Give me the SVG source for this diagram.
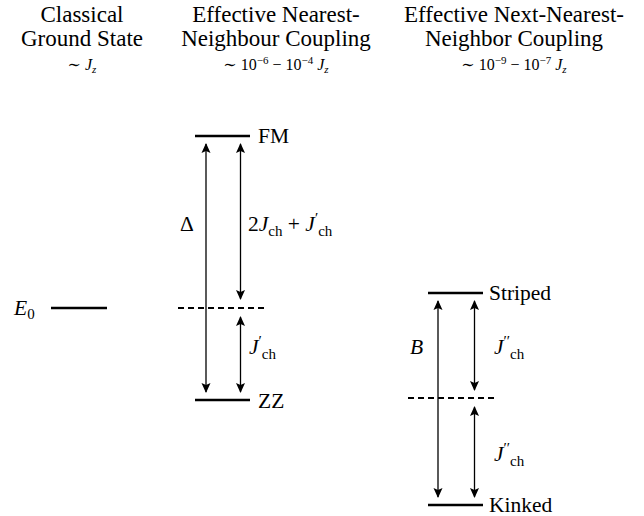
<svg xmlns="http://www.w3.org/2000/svg" width="644" height="516" viewBox="0 0 644 516">
<style>
text{font-family:"Liberation Serif","DejaVu Serif",serif;fill:#000}
.h{font-size:23px;text-anchor:middle}
.s{font-size:16px;text-anchor:middle}
.sup{font-size:11px}
.l{font-size:21.5px}
.i{font-style:italic}
.sub{font-size:15px}
.lvl{stroke:#000;stroke-width:2.6;fill:none}
.dash{stroke:#000;stroke-width:2;stroke-dasharray:6 4;fill:none}
.arr{stroke:#000;stroke-width:1.3;fill:none;marker-start:url(#ah);marker-end:url(#ah)}
</style>
<defs>
<marker id="ah" viewBox="0 0 10 10" refX="9" refY="5" markerWidth="10" markerHeight="10" markerUnits="userSpaceOnUse" orient="auto-start-reverse">
<path d="M0,0.5 L10,5 L0,9.5 L2,5 Z" fill="#000"/>
</marker>
</defs>
<g id="headers">
<text class="h" x="82" y="22">Classical</text>
<text class="h" x="82" y="46">Ground State</text>
<text class="s" x="82" y="70">∼ <tspan class="i">J</tspan><tspan class="sup i" dy="3">z</tspan></text>
<text class="h" x="276" y="22">Effective Nearest-</text>
<text class="h" x="276" y="46">Neighbour Coupling</text>
<text class="s" x="276" y="70">∼ 10<tspan class="sup" dy="-6">−6</tspan><tspan dy="6"> − 10</tspan><tspan class="sup" dy="-6">−4</tspan><tspan dy="6" class="i"> J</tspan><tspan class="sup i" dy="3">z</tspan></text>
<text class="h" x="514" y="22">Effective Next-Nearest-</text>
<text class="h" x="514" y="46">Neighbor Coupling</text>
<text class="s" x="514" y="70">∼ 10<tspan class="sup" dy="-6">−9</tspan><tspan dy="6"> − 10</tspan><tspan class="sup" dy="-6">−7</tspan><tspan dy="6" class="i"> J</tspan><tspan class="sup i" dy="3">z</tspan></text>
</g>
<g id="E0">
<line class="lvl" x1="51" y1="308" x2="107" y2="308"/>
<text class="l" x="14" y="315"><tspan class="i">E</tspan><tspan class="sub" dy="4">0</tspan></text>
</g>
<g id="FM">
<line class="lvl" x1="195" y1="136" x2="250" y2="136"/>
<text class="l" x="258" y="143">FM</text>
</g>
<g id="NN-mid">
<line class="dash" x1="178" y1="308" x2="268" y2="308"/>
</g>
<g id="ZZ">
<line class="lvl" x1="195" y1="400" x2="250" y2="400"/>
<text class="l" x="258" y="408">ZZ</text>
</g>
<g id="Striped">
<line class="lvl" x1="428" y1="293" x2="483" y2="293"/>
<text class="l" x="489" y="300">Striped</text>
</g>
<g id="NNN-mid">
<line class="dash" x1="408" y1="398" x2="498" y2="398"/>
</g>
<g id="Kinked">
<line class="lvl" x1="428" y1="505" x2="483" y2="505"/>
<text class="l" x="489" y="512">Kinked</text>
</g>
<g id="connectors">
<line class="arr" x1="206" y1="144" x2="206" y2="392"/>
<line class="arr" x1="240.5" y1="144" x2="240.5" y2="299"/>
<line class="arr" x1="240.5" y1="317" x2="240.5" y2="392"/>
<line class="arr" x1="438" y1="301" x2="438" y2="497"/>
<line class="arr" x1="474.5" y1="301" x2="474.5" y2="390"/>
<line class="arr" x1="474.5" y1="407" x2="474.5" y2="497"/>
</g>
<g id="labels">
<text class="l" x="180" y="231">Δ</text>
<text class="l" x="248" y="231">2<tspan class="i">J</tspan><tspan class="sub" dy="5">ch</tspan><tspan dy="-5"> + </tspan><tspan class="i">J</tspan><tspan class="sub" dy="-8">′</tspan><tspan class="sub" dy="13">ch</tspan></text>
<text class="l" x="249" y="354"><tspan class="i">J</tspan><tspan class="sub" dy="-8">′</tspan><tspan class="sub" dy="13">ch</tspan></text>
<text class="l i" x="410" y="354">B</text>
<text class="l" x="494" y="354"><tspan class="i">J</tspan><tspan class="sub" dy="-8">′′</tspan><tspan class="sub" dy="13">ch</tspan></text>
<text class="l" x="494" y="461"><tspan class="i">J</tspan><tspan class="sub" dy="-8">′′</tspan><tspan class="sub" dy="13">ch</tspan></text>
</g>
</svg>
